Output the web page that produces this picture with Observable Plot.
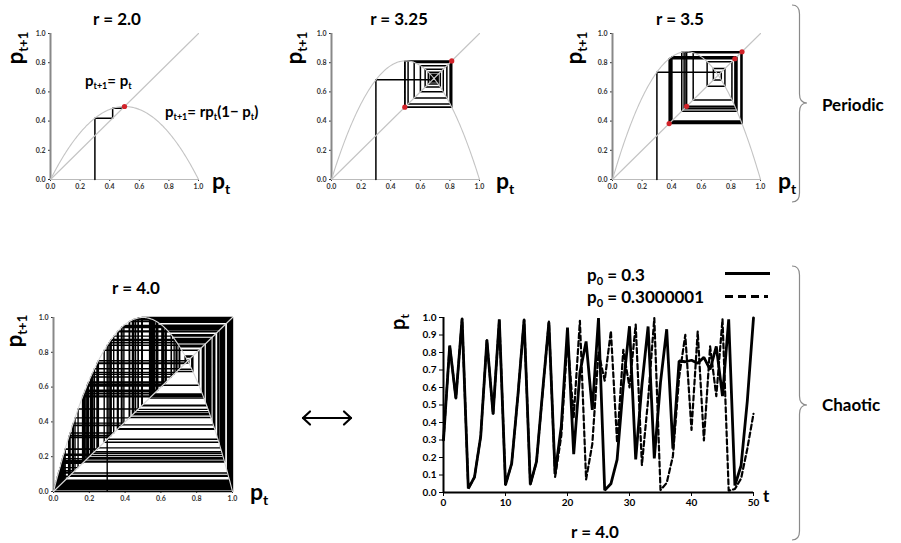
<!DOCTYPE html>
<html><head><meta charset="utf-8">
<script src="https://cdn.jsdelivr.net/npm/d3@7"></script>
<script src="https://cdn.jsdelivr.net/npm/@observablehq/plot@0.6"></script>
<style>
body{margin:0;background:#fff;}
#root{position:relative;width:901px;height:543px;overflow:hidden;background:#fff;}
</style></head><body><div id="root"></div>
<script>
// ---------------- data ----------------
const cobwebR = [2.0, 3.25, 3.5, 4.0];          // growth rates of the four cobweb panels
const cobwebP0 = 0.3;                             // starting population
const cobwebSteps = [20, 150, 150, 170];          // iterations drawn in each cobweb
const cyclePoints = [[0.5], [0.4953, 0.8124], [0.3828, 0.5009, 0.8269, 0.8750], []];
const axisTicks01 = [0, 0.2, 0.4, 0.6, 0.8, 1.0];
const timeTicks = [0, 10, 20, 30, 40, 50];
const ptTicks = [0, 0.1, 0.2, 0.3, 0.4, 0.5, 0.6, 0.7, 0.8, 0.9, 1.0];
const seriesA = [0.3, 0.84, 0.5376, 0.9943, 0.0225, 0.0879, 0.3208, 0.8716, 0.4476, 0.9890,
  0.0434, 0.1661, 0.5539, 0.9884, 0.0464, 0.1770, 0.5826, 0.9727, 0.1061, 0.3794,
  0.9418, 0.2193, 0.6849, 0.8633, 0.4720, 0.9969, 0.0125, 0.0495, 0.1884, 0.6116,
  0.9502, 0.1891, 0.6134, 0.9486, 0.1950, 0.6294, 0.9330, 0.2507, 0.7514, 0.7472,
  0.7557, 0.7385, 0.7725, 0.7029, 0.8353, 0.5504, 0.9899, 0.0402, 0.1545, 0.5224, 0.9980];
const seriesB = [0.3, 0.84, 0.5376, 0.9943, 0.0225, 0.0879, 0.3208, 0.8716, 0.4476, 0.9890,
  0.0434, 0.1661, 0.5539, 0.9884, 0.0456, 0.1742, 0.5755, 0.9772, 0.0891, 0.3247,
  0.8771, 0.4311, 0.9810, 0.0747, 0.2766, 0.8004, 0.6390, 0.9227, 0.2854, 0.8158,
  0.6011, 0.9591, 0.1570, 0.5296, 0.9965, 0.0139, 0.0549, 0.2074, 0.6576, 0.9007,
  0.3579, 0.9192, 0.2971, 0.8354, 0.5504, 0.9899, 0.0100, 0.0200, 0.0800, 0.2500, 0.4500];
const legendLabels = ["0.3", "0.3000001"];
const panelTitles = ["r = 2.0", "r = 3.25", "r = 3.5", "r = 4.0"];
const groupLabels = ["Periodic", "Chaotic"];

// ---------------- helpers ----------------
const FONT = "Lato, 'Open Sans', 'DejaVu Sans', sans-serif";
const root = document.getElementById("root");
function place(el, left, top) {
  el.style.position = "absolute"; el.style.left = left + "px"; el.style.top = top + "px";
  el.style.maxWidth = "none";
  root.appendChild(el);
}
function orbit(r, p0, n) {
  const p = [p0];
  for (let i = 0; i < n; i++) p.push(r * p[i] * (1 - p[i]));
  return p;
}
function cobwebPoints(p) {
  const pts = [{x: p[0], y: 0}];
  for (let i = 0; i < p.length - 1; i++) {
    pts.push({x: p[i], y: p[i + 1]});
    pts.push({x: p[i + 1], y: p[i + 1]});
  }
  return pts;
}

const layouts = [
  {left: 0,   top: 0,   w: 240, h: 200, ml: 50, mr: 42, mt: 33, mb: 21},
  {left: 281, top: 0,   w: 240, h: 200, ml: 50, mr: 42, mt: 33, mb: 21},
  {left: 562, top: 0,   w: 240, h: 200, ml: 50, mr: 42, mt: 33, mb: 21},
  {left: 0,   top: 290, w: 260, h: 220, ml: 53, mr: 28, mt: 27, mb: 19}
];

cobwebR.forEach((r, i) => {
  const L = layouts[i];
  const p = orbit(r, cobwebP0, cobwebSteps[i]);
  const parab = d3.range(0, 1.0001, 0.005).map(x => ({x, y: r * x * (1 - x)}));
  const diag = [{x: 0, y: 0}, {x: 1, y: 1}];
  const chart = Plot.plot({
    width: L.w, height: L.h,
    marginLeft: L.ml, marginRight: L.mr, marginTop: L.mt, marginBottom: L.mb,
    x: {domain: [0, 1], ticks: axisTicks01, tickFormat: d3.format(".1f"), tickSize: 2, tickPadding: 3, label: null},
    y: {domain: [0, 1], ticks: axisTicks01, tickFormat: d3.format(".1f"), tickSize: 2, tickPadding: 3, label: null},
    style: {fontFamily: FONT, fontSize: "7px", fontWeight: "bold", color: "#333", background: "transparent", overflow: "visible"},
    marks: [
      Plot.ruleY([0], {stroke: "#bbb", strokeWidth: 1}),
      Plot.ruleX([0], {stroke: "#888", strokeWidth: 2}),
      Plot.line(cobwebPoints(p), {x: "x", y: "y", stroke: "black", strokeWidth: i === 3 ? 1.4 : 1.5}),
      Plot.line(parab, {x: "x", y: "y", stroke: i === 3 ? "#d8d8d8" : "#c4c4c4", strokeWidth: 1.1}),
      Plot.line(diag, {x: "x", y: "y", stroke: i === 3 ? "#d8d8d8" : "#c4c4c4", strokeWidth: 1.1}),
      Plot.dot(cyclePoints[i], {x: d => d, y: d => d, r: 2.6, fill: "#d2232a", stroke: "none"})
    ]
  });
  place(chart, L.left, L.top);
});

// time series
const tsData = seriesA.map((v, t) => ({t, p: v}));
const tsDataB = seriesB.map((v, t) => ({t, p: v}));
const ts = Plot.plot({
  width: 400, height: 220, marginLeft: 63, marginRight: 27, marginTop: 17, marginBottom: 28,
  x: {domain: [0, 50], ticks: timeTicks, tickSize: 4, tickPadding: 2, label: null, tickFormat: d => String(d)},
  y: {domain: [0, 1], ticks: ptTicks, tickSize: 4, tickPadding: 3, tickFormat: d3.format(".1f"), label: null},
  style: {fontFamily: FONT, fontSize: "10px", fontWeight: "bold", color: "#000", background: "transparent", overflow: "visible"},
  marks: [
    Plot.line(tsDataB, {x: "t", y: "p", stroke: "black", strokeWidth: 2.2, strokeDasharray: "5,3"}),
    Plot.line(tsData, {x: "t", y: "p", stroke: "black", strokeWidth: 2.8, strokeLinejoin: "miter"}),
    Plot.ruleX([0], {stroke: "black", strokeWidth: 2}),
    Plot.ruleY([0], {stroke: "black", strokeWidth: 2})
  ]
});
place(ts, 380, 300);

// ---------------- overlay text / decorations ----------------
function rich(str, fs, sfs, drop) {
  let out = "", re = /_\{([^}]*)\}/g, last = 0, m, lowered = false;
  while ((m = re.exec(str))) {
    const before = str.slice(last, m.index);
    if (before) out += `<tspan font-size="${fs}" dy="${lowered ? -drop : 0}">${before}</tspan>`, lowered = false;
    out += `<tspan font-size="${sfs}" dy="${lowered ? 0 : drop}">${m[1]}</tspan>`;
    lowered = true; last = re.lastIndex;
  }
  const rest = str.slice(last);
  if (rest) out += `<tspan font-size="${fs}" dy="${lowered ? -drop : 0}">${rest}</tspan>`;
  return out;
}
function txt(x, y, str, fs, opts = {}) {
  const sfs = opts.sfs || Math.round(fs * 0.6);
  const drop = opts.drop || fs * 0.22;
  const anchor = opts.anchor || "start";
  const tr = opts.rotate ? ` transform="rotate(-90 ${x} ${y})"` : "";
  return `<text x="${x}" y="${y}" text-anchor="${anchor}"${tr}>${rich(str, fs, sfs, drop)}</text>`;
}
function brace(x0, y0, y1, ym, w) {
  const x1 = x0 + w * 0.5, x2 = x0 + w, rr = 9;
  return `<path d="M${x0},${y0} Q${x1},${y0} ${x1},${y0 + rr} L${x1},${ym - rr} Q${x1},${ym} ${x2},${ym} Q${x1},${ym} ${x1},${ym + rr} L${x1},${y1 - rr} Q${x1},${y1} ${x0},${y1}" fill="none" stroke="#8a8a8a" stroke-width="1.2"/>`;
}
let s = `<svg xmlns="http://www.w3.org/2000/svg" width="901" height="543" style="position:absolute;left:0;top:0;pointer-events:none" font-family="${FONT}" font-weight="bold" fill="#000">`;
s += txt(117, 25, panelTitles[0], 17, {anchor: "middle"});
s += txt(399, 25, panelTitles[1], 17, {anchor: "middle"});
s += txt(680, 25, panelTitles[2], 17, {anchor: "middle"});
s += txt(136, 294, panelTitles[3], 17, {anchor: "middle"});
s += txt(595, 538, "r = 4.0", 17, {anchor: "middle"});
[[23, 48], [302, 48], [582, 48], [22, 331]].forEach(([x, y]) => {
  s += txt(x, y, "p_{t+1}", 22, {anchor: "middle", rotate: true, sfs: 13, drop: 5});
});
[[212, 189], [496, 189], [778, 189], [250, 500]].forEach(([x, y]) => {
  s += txt(x, y, "p_{t}", 23, {sfs: 14, drop: 5});
});
s += txt(405, 322, "p_{t}", 20, {anchor: "middle", rotate: true, sfs: 12, drop: 4});
s += txt(763, 502, "t", 17);
s += txt(85, 86, "p_{t+1}= p_{t}", 15, {sfs: 9, drop: 3});
s += txt(165, 117, "p_{t+1}= rp_{t}(1\u2212 p_{t})", 15, {sfs: 9, drop: 3});
s += txt(587, 281, "p_{0} = " + legendLabels[0], 17, {sfs: 11, drop: 4});
s += txt(587, 303, "p_{0} = " + legendLabels[1], 17, {sfs: 11, drop: 4});
s += `<line x1="725" y1="273.5" x2="770" y2="273.5" stroke="#000" stroke-width="3"/>`;
s += `<line x1="725" y1="296.5" x2="768" y2="296.5" stroke="#000" stroke-width="3" stroke-dasharray="8,5"/>`;
s += brace(792, 5, 202, 103, 15);
s += brace(792, 266, 540, 405, 15);
s += txt(822, 111, groupLabels[0], 17);
s += txt(822, 411, groupLabels[1], 17);
s += `<g stroke="#000" stroke-width="2.2" fill="none" stroke-linecap="round" stroke-linejoin="round">
  <line x1="303" y1="418" x2="351" y2="418"/>
  <polyline points="310,411.5 303,418 310,424.5"/>
  <polyline points="344,411.5 351,418 344,424.5"/></g>`;
s += `</svg>`;
root.insertAdjacentHTML("beforeend", s);
</script></body></html>
